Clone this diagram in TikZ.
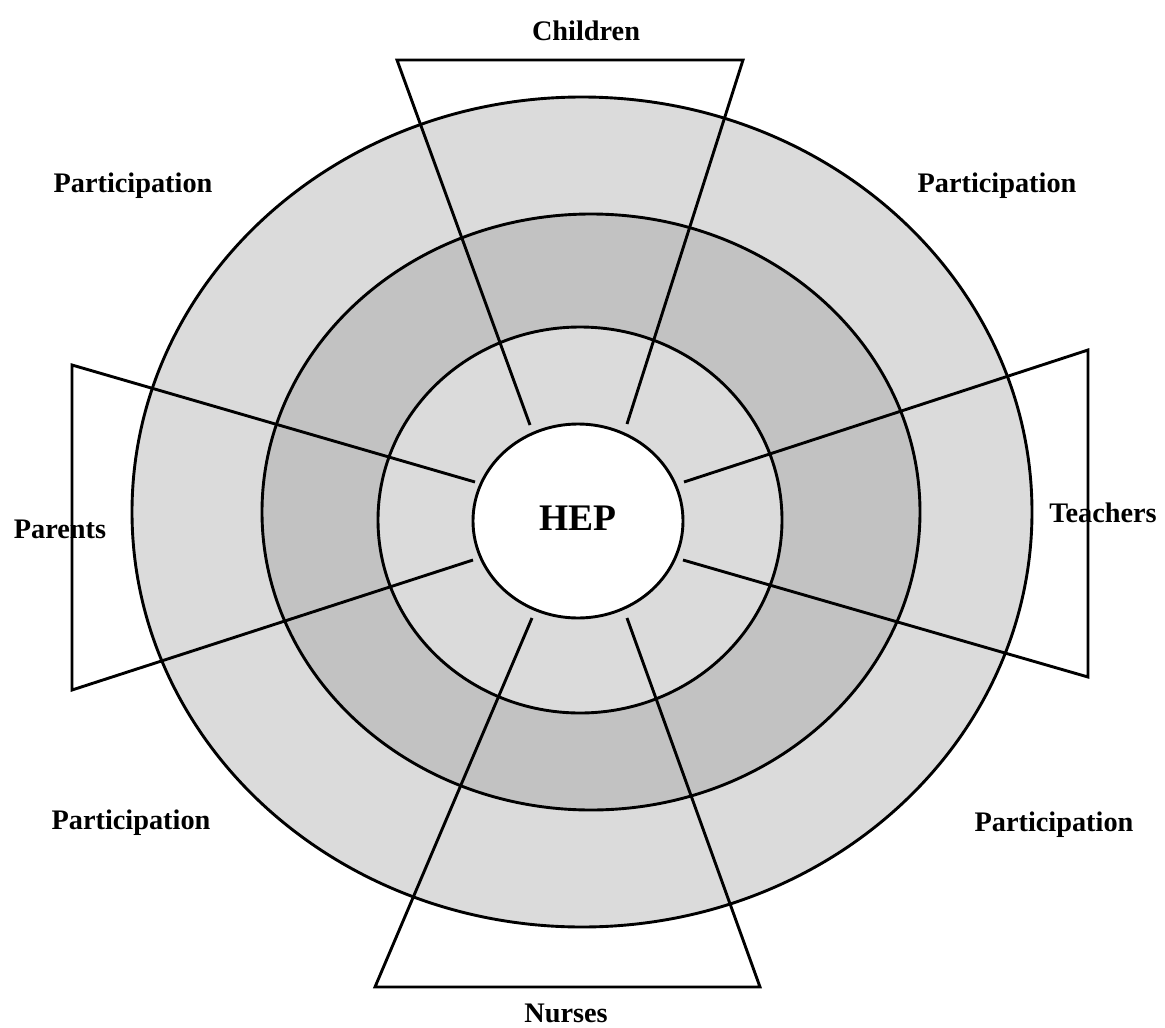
\documentclass[tikz,border=0pt]{standalone}
\usepackage{fontspec}
\setmainfont{Liberation Serif}
\definecolor{lightring}{gray}{0.86}
\definecolor{darkring}{gray}{0.76}
\begin{document}
\begin{tikzpicture}[x=1pt,y=-1pt,
  lbl/.style={font=\fontsize{28.3}{34}\selectfont\bfseries, inner sep=0pt, anchor=base},
  ringline/.style={line width=2.9pt},
  funnel/.style={line width=2.9pt, line join=miter}]
\useasboundingbox (0,0) rectangle (1165,1028);
% ring fills
\fill[lightring] (582,512) ellipse [x radius=450, y radius=415];
\fill[darkring] (591,512) ellipse [x radius=329, y radius=298];
\fill[lightring] (580,520) ellipse [x radius=202, y radius=193];
\fill[white] (578,521) ellipse [x radius=105, y radius=97];
% ring outlines
\draw[ringline] (582,512) ellipse [x radius=450, y radius=415];
\draw[ringline] (591,512) ellipse [x radius=329, y radius=298];
\draw[ringline] (580,520) ellipse [x radius=202, y radius=193];
\draw[ringline] (578,521) ellipse [x radius=105, y radius=97];
% centre label
\node[lbl, font=\fontsize{37.5}{40}\selectfont\bfseries] (hep) at (578,530) {HEP};
% funnel corners
\coordinate (cA) at (530,425); \coordinate (cB) at (397,60);
\coordinate (cC) at (743,60);  \coordinate (cD) at (627,424);
\coordinate (nA) at (532,618); \coordinate (nB) at (375,987);
\coordinate (nC) at (760,987); \coordinate (nD) at (627,618);
\coordinate (pA) at (475,482); \coordinate (pB) at (72,365);
\coordinate (pC) at (72,690);  \coordinate (pD) at (473,560);
\coordinate (tA) at (684,482); \coordinate (tB) at (1088,350);
\coordinate (tC) at (1088,677); \coordinate (tD) at (683,560);
\draw[funnel] (cA) -- (cB) -- (cC) -- (cD);
\draw[funnel] (nA) -- (nB) -- (nC) -- (nD);
\draw[funnel] (pA) -- (pB) -- (pC) -- (pD);
\draw[funnel] (tA) -- (tB) -- (tC) -- (tD);
% labels
\node[lbl] (children) at (586,40) {Children};
\node[lbl] (nurses) at (566,1022) {Nurses};
\node[lbl] (parents) at (60,538) {Parents};
\node[lbl] (teachers) at (1103,522) {Teachers};
\node[lbl] (ptl) at (133,192) {Participation};
\node[lbl] (ptr) at (997,192) {Participation};
\node[lbl] (pbl) at (131,829) {Participation};
\node[lbl] (pbr) at (1054,831) {Participation};
\end{tikzpicture}
\end{document}
